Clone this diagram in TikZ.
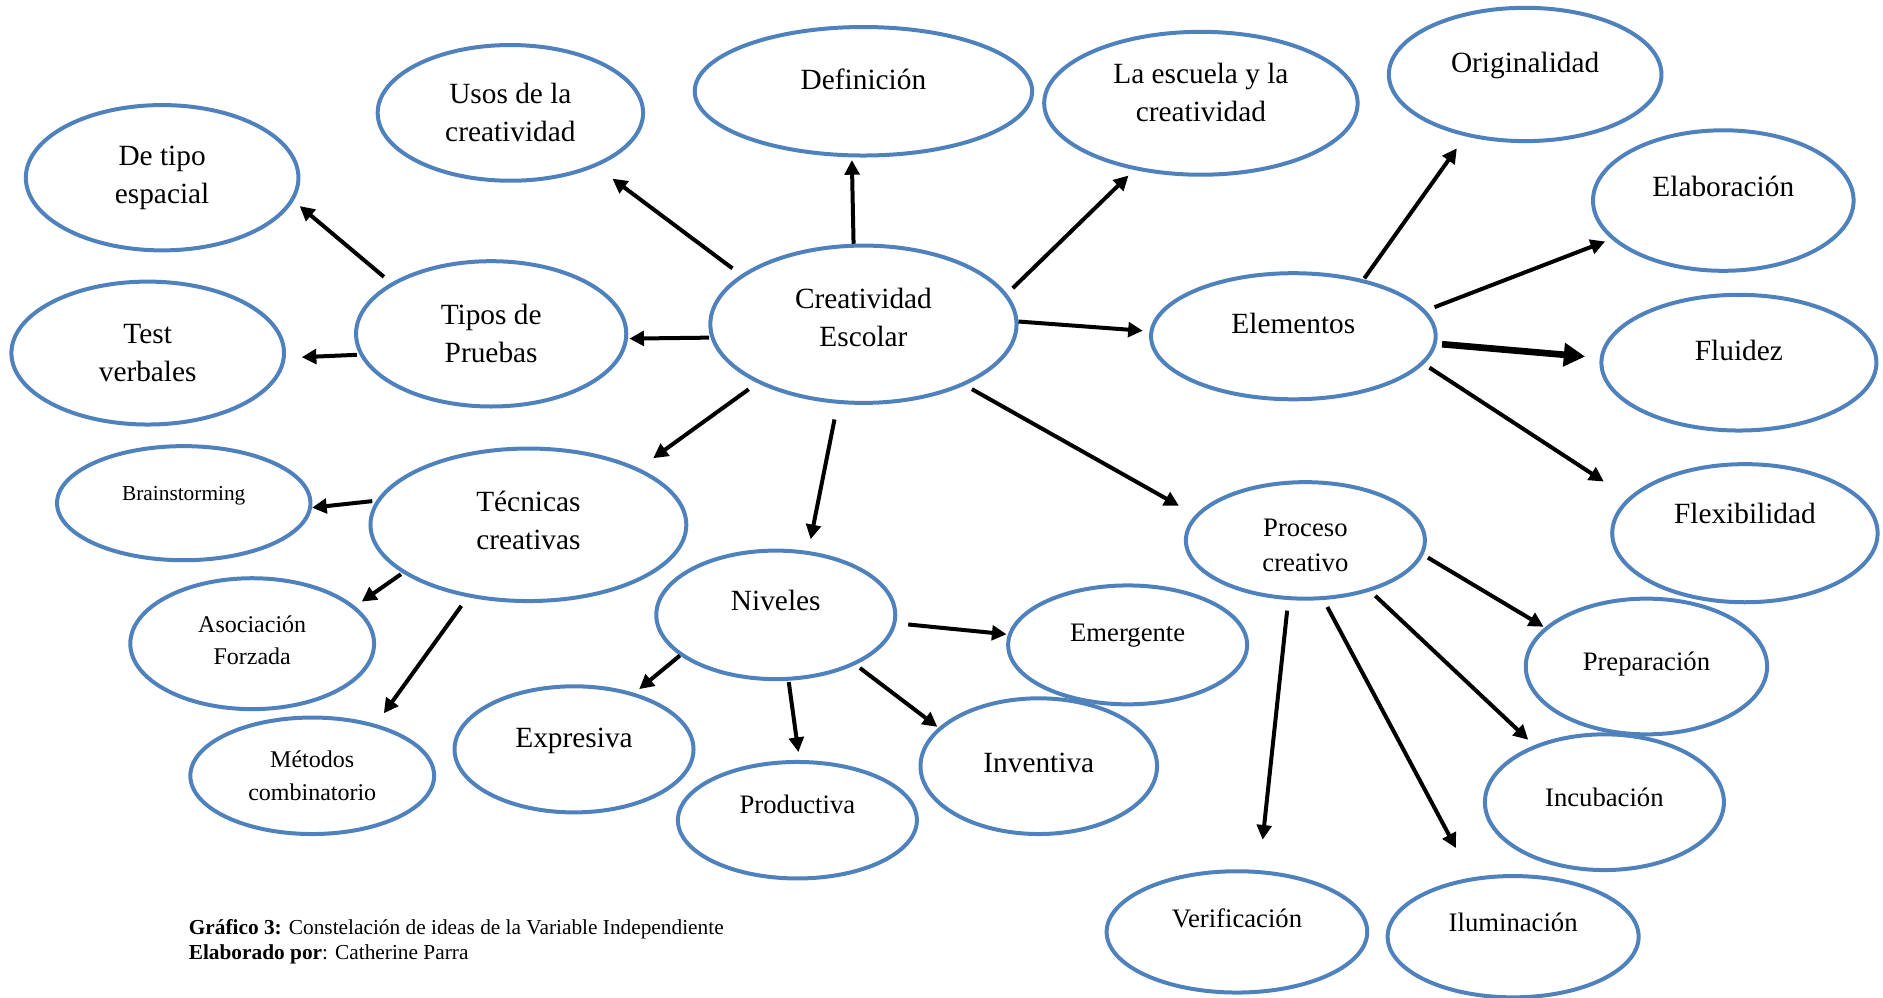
\documentclass[tikz,border=0pt]{standalone}
\usepackage{fontspec}
\setmainfont{Liberation Serif}
\usetikzlibrary{shapes.geometric,arrows.meta}
\definecolor{ideablue}{RGB}{79,129,189}
\newcommand{\pu}{0.9007pt}

\begin{document}
\begin{tikzpicture}[x=0.9007pt,y=-0.9007pt,
  idea/.style={ellipse,draw=ideablue,line width=3pt,inner sep=0pt,align=center},
  oval/.style 2 args={minimum width=#1*\pu,minimum height=#2*\pu},
  lift/.style={text height=15.4pt,text depth=#1},
  liftm/.style={text depth=#1},
  fbig/.style={font=\fontsize{22}{28.5}\selectfont},
  fmid/.style={font=\fontsize{20}{26}\selectfont},
  fsm/.style={font=\fontsize{18}{24.3}\selectfont},
  ftiny/.style={font=\fontsize{16}{19}\selectfont},
  conn/.style={line width=3pt,-{Triangle[length=11pt,width=11pt]}},
  bigconn/.style={line width=5pt,-{Triangle[length=16pt,width=17pt]}}]
  \useasboundingbox (0,0) rectangle (1568,831);

  % centre
  \node (ce) at (719,270) [idea,fbig,oval={255}{131},liftm=10.8pt]{Creatividad\\Escolar};

  % top row
  \node (defi) at (719,76) [idea,fbig,oval={281}{107},lift=18pt]{Definición};
  \node (usos) at (425,94) [idea,fbig,oval={221}{113}]{Usos de la\\creatividad};
  \node (escuela) at (1000,86) [idea,fbig,oval={261}{119},liftm=16.2pt]{La escuela y la\\creatividad};

  % elementos
  \node (elem) at (1077,280) [idea,fbig,oval={237}{105},lift=19.8pt]{Elementos};
  \node (orig) at (1270,62) [idea,fbig,oval={227}{111},lift=18pt]{Originalidad};
  \node (elab) at (1435,167) [idea,fbig,oval={217}{117},lift=21.6pt]{Elaboración};
  \node (flui) at (1448,302) [idea,fbig,oval={229}{113},lift=18pt]{Fluidez};
  \node (flex) at (1453,444) [idea,fbig,oval={221}{115},lift=30.6pt]{Flexibilidad};

  % proceso creativo
  \node (proc) at (1087,450) [idea,fmid,oval={199}{97},text height=46.4pt,text depth=0pt]{Proceso\\creativo};
  \node (prep) at (1371,555) [idea,fmid,oval={201}{113},lift=9pt]{Preparación};
  \node (incu) at (1336,668) [idea,fmid,oval={199}{113},lift=9pt]{Incubación};
  \node (ilum) at (1260,780) [idea,fmid,oval={209}{101},lift=23.4pt]{Iluminación};
  \node (veri) at (1030,776) [idea,fmid,oval={217}{101},lift=21.6pt]{Verificación};

  % niveles
  \node (nive) at (646,512) [idea,fbig,oval={199}{107},lift=21.6pt]{Niveles};
  \node (emer) at (939,537) [idea,fmid,oval={199}{99},lift=19.8pt]{Emergente};
  \node (inve) at (865,638) [idea,fbig,oval={197}{113},lift=5.4pt]{Inventiva};
  \node (prod) at (664,683) [idea,fmid,oval={199}{97},lift=25.2pt]{Productiva};
  \node (expr) at (478,624) [idea,fbig,oval={199}{105},lift=18pt]{Expresiva};

  % tecnicas
  \node (tecn) at (440,437) [idea,fbig,oval={263}{127},liftm=7.2pt]{Técnicas\\creativas};
  \node (brain) at (153,419) [idea,ftiny,oval={211}{95},lift=19.8pt]{Brainstorming};
  \node (asoc) at (210,536) [idea,fsm,oval={203}{109},liftm=5.4pt]{Asociación\\Forzada};
  \node (meto) at (260,646) [idea,fsm,oval={203}{97}]{Métodos\\combinatorio};

  % tipos de pruebas
  \node (tipos) at (409,278) [idea,fbig,oval={225}{121}]{Tipos de\\Pruebas};
  \node (espa) at (135,148) [idea,fbig,oval={227}{121}]{De tipo\\espacial};
  \node (test) at (123,294) [idea,fbig,oval={227}{119}]{Test\\verbales};

  \node (pie) at (157,784) [anchor=west,align=left,ftiny,inner sep=0pt]
    {\textbf{Gráfico 3:} Constelación de ideas de la Variable Independiente\\
     \textbf{Elaborado por}: Catherine Parra};

  \draw[conn,shorten <=8pt,shorten >=15pt] (ce.158) -- (usos.-32);
  \draw[conn,shorten >=2pt] (ce.97) -- (defi.-100);
  \draw[conn,shorten <=6pt,shorten >=6pt] (ce.12) -- (escuela.-135);
  \draw[conn,shorten >=5pt] (ce.1) -- (elem.178);
  \draw[conn,shorten <=1pt,shorten >=1pt] (ce.185) -- (tipos.-2);
  \draw[conn,shorten <=8pt,shorten >=13pt] (ce.-151) -- (tecn.27);
  \draw[conn,shorten <=12pt,shorten >=9pt] (ce.-108) -- (nive.63);
  \draw[conn,shorten <=6pt,shorten >=14pt] (ce.-31) -- (proc.167);

  \draw[conn,shorten <=1pt,shorten >=11pt] (elem.39) -- (orig.-134.5);
  \draw[conn,shorten <=7pt,shorten >=5pt] (elem.11) -- (elab.-161.5);
  \draw[bigconn,shorten <=4pt,shorten >=11pt] (elem.-3) -- (flui.178);
  \draw[conn,shorten <=5pt,shorten >=22pt] (elem.-12) -- (flex.163.4);

  \draw[conn,shorten <=4pt,shorten >=1pt] (proc.-7) -- (prep.159);
  \draw[conn,shorten <=5pt,shorten >=6pt] (proc.-38) -- (incu.141);
  \draw[conn,shorten <=6pt,shorten >=25pt] (proc.-73) -- (ilum.125);
  \draw[conn,shorten <=8pt,shorten >=23pt] (proc.-106) -- (veri.70);

  \draw[conn,shorten <=9pt,shorten >=1pt] (nive.-4) -- (emer.175);
  \draw[conn,shorten <=4pt,shorten >=1pt] (nive.-32) -- (inve.159.4);
  \draw[conn,shorten <=1pt,shorten >=6pt] (nive.-79) -- (prod.88);
  \draw[conn,shorten >=4.5pt] (nive.-157) -- (expr.43);

  \draw[conn,shorten <=3pt] (tecn.171) -- (brain.-2);
  \draw[conn,shorten <=1.5pt,shorten >=6pt] (tecn.-159.5) -- (asoc.20);
  \draw[conn,shorten <=8pt,shorten >=10pt] (tecn.-130) -- (meto.39);

  \draw[conn,shorten <=7pt,shorten >=6pt] (tipos.153) -- (espa.-10);
  \draw[conn,shorten <=2pt,shorten >=12pt] (tipos.-171) -- (test.-2);

\end{tikzpicture}
\end{document}
